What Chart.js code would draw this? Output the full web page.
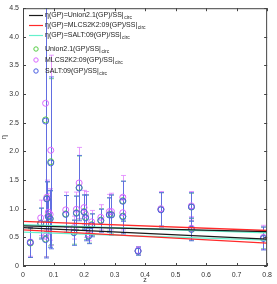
<!DOCTYPE html>
<html>
<head>
<meta charset="utf-8">
<script src="https://cdn.jsdelivr.net/npm/chart.js@4"></script>
<style>
  html, body { margin: 0; padding: 0; background: #fff; }
  #wrap { width: 277px; height: 284px; }
</style>
</head>
<body>
<div id="wrap"><canvas id="etaChart" width="277" height="284"></canvas></div>
<script>
// redshift of each SN point
const zVals = [0.024, 0.058, 0.074, 0.074, 0.083, 0.089, 0.091, 0.078, 0.14, 0.167, 0.175, 0.184, 0.200, 0.205, 0.215, 0.225, 0.255, 0.283, 0.29, 0.327, 0.327, 0.377, 0.452, 0.552, 0.552, 0.788];

// eta values and 1-sigma errors per light-curve fitter
const unionEta = [0.40, 0.75, 0.47, 2.55, 0.87, 0.83, 1.82, 1.18, 0.91, 0.59, 0.93, 1.37, 0.95, 0.85, 0.53, 0.72, 0.80, 0.90, 0.90, 1.14, 0.87, 0.26, 0.99, 1.03, 0.64, 0.49];
const unionErr = [0.25, 0.26, 0.31, 1.95, 0.29, 0.48, 1.45, 0.29, 0.32, 0.21, 0.29, 0.55, 0.29, 0.39, 0.13, 0.19, 0.20, 0.29, 0.34, 0.34, 0.29, 0.07, 0.29, 0.24, 0.19, 0.19];
const mlcsEta  = [0.42, 0.84, 0.52, 2.84, 0.94, 0.90, 2.02, 1.20, 0.98, 0.67, 0.99, 1.45, 1.02, 0.90, 0.56, 0.77, 0.85, 0.95, 0.95, 1.20, 0.93, 0.27, 1.00, 1.05, 0.66, 0.50];
const mlcsErr  = [0.25, 0.31, 0.36, 2.20, 0.33, 0.45, 1.66, 0.30, 0.31, 0.20, 0.30, 0.62, 0.30, 0.40, 0.12, 0.20, 0.22, 0.30, 0.32, 0.38, 0.30, 0.07, 0.30, 0.25, 0.20, 0.21];
const saltEta  = [0.41, 0.74, 0.46, 2.53, 0.86, 0.82, 1.80, 1.17, 0.90, 0.58, 0.92, 1.36, 0.94, 0.84, 0.52, 0.71, 0.79, 0.89, 0.89, 1.13, 0.86, 0.26, 0.98, 1.03, 0.64, 0.48];
const saltErr  = [0.26, 0.27, 0.32, 2.00, 0.30, 0.50, 1.50, 0.30, 0.33, 0.22, 0.30, 0.57, 0.30, 0.40, 0.13, 0.20, 0.20, 0.30, 0.35, 0.35, 0.30, 0.07, 0.30, 0.25, 0.20, 0.20];

// GP fit lines, two per fitter (ends at z=0 and z=0.8)
const lineZ = [0, 0.8];
const unionLineA = [0.70, 0.60];
const unionLineB = [0.67, 0.47];
const mlcsLineA  = [0.78, 0.62];
const mlcsLineB  = [0.63, 0.40];
const saltLineA  = [0.72, 0.58];
const saltLineB  = [0.59, 0.45];

const xTicks = [0, 0.1, 0.2, 0.3, 0.4, 0.5, 0.6, 0.7, 0.8];
const yTicks = [0, 0.5, 1, 1.5, 2, 2.5, 3, 3.5, 4, 4.5];

const FONT = '"Liberation Sans", Arial, sans-serif';
const C_BLACK = '#1a1a1a', C_RED = '#ff2a2a', C_CYAN = '#66f0cc';
const C_GREEN = '#55cc44', C_MAG = '#d866ff', C_BLUE = '#4a5ee0';

const pts = (ys) => zVals.map((z, i) => ({ x: z, y: ys[i] }));
const seg = (ys) => lineZ.map((z, i) => ({ x: z, y: ys[i] }));

function pointSet(label, ys, errs, color, errColor) {
    return {
        label, data: pts(ys), errs, errColor, showLine: false,
        borderColor: color, backgroundColor: 'rgba(0,0,0,0)',
        pointRadius: 3, pointBorderWidth: 1, pointStyle: 'circle'
    };
}
function lineSet(label, ys, color) {
    return {
        type: 'line', label, data: seg(ys), showLine: true,
        borderColor: color, borderWidth: 1.3, pointRadius: 0, fill: false
    };
}

// error bars drawn through the scales (green, then magenta, then blue on top)
const errorBars = {
    id: 'errorBars',
    beforeDatasetsDraw(chart) {
        const ctx = chart.ctx, xs = chart.scales.x, ys = chart.scales.y;
        const area = chart.chartArea;
        ctx.save();
        ctx.beginPath();
        ctx.rect(area.left, area.top, area.right - area.left, area.bottom - area.top);
        ctx.clip();
        const withErr = chart.data.datasets.filter(ds => ds.errs).reverse();
        withErr.forEach(ds => {
            ctx.strokeStyle = ds.errColor;
            ctx.lineWidth = 1;
            ds.data.forEach((p, i) => {
                const px = Math.round(xs.getPixelForValue(p.x)) + 0.5;
                const top = ys.getPixelForValue(p.y + ds.errs[i]);
                const bot = ys.getPixelForValue(p.y - ds.errs[i]);
                ctx.beginPath();
                ctx.moveTo(px, top); ctx.lineTo(px, bot);
                ctx.moveTo(px - 2.5, top); ctx.lineTo(px + 2.5, top);
                ctx.moveTo(px - 2.5, bot); ctx.lineTo(px + 2.5, bot);
                ctx.stroke();
            });
        });
        ctx.restore();
    }
};

// MATLAB-like box with inward ticks, plus legend
const boxAndLegend = {
    id: 'boxAndLegend',
    afterDraw(chart) {
        const ctx = chart.ctx, a = chart.chartArea;
        const xs = chart.scales.x, ys = chart.scales.y;
        ctx.save();
        ctx.strokeStyle = '#444';
        ctx.lineWidth = 1;
        ctx.strokeRect(a.left + 0.5, a.top + 0.5, a.right - a.left - 1, a.bottom - a.top - 1);
        ctx.beginPath();
        xTicks.forEach(v => {
            const px = Math.round(xs.getPixelForValue(v)) + 0.5;
            ctx.moveTo(px, a.bottom); ctx.lineTo(px, a.bottom - 3);
            ctx.moveTo(px, a.top); ctx.lineTo(px, a.top + 3);
        });
        yTicks.forEach(v => {
            const py = Math.round(ys.getPixelForValue(v)) + 0.5;
            ctx.moveTo(a.left, py); ctx.lineTo(a.left + 3, py);
            ctx.moveTo(a.right, py); ctx.lineTo(a.right - 3, py);
        });
        ctx.stroke();

        const entries = [
            { kind: 'line', color: C_BLACK, text: 'η(GP)=Union2.1(GP)/SS|', y: 15 },
            { kind: 'line', color: C_RED, text: 'η(GP)=MLCS2K2:09(GP)/SS|', y: 25 },
            { kind: 'line', color: C_CYAN, text: 'η(GP)=SALT:09(GP)/SS|', y: 35 },
            { kind: 'dot', color: C_GREEN, text: 'Union2.1(GP)/SS|', y: 49 },
            { kind: 'dot', color: C_MAG, text: 'MLCS2K2:09(GP)/SS|', y: 60 },
            { kind: 'dot', color: C_BLUE, text: 'SALT:09(GP)/SS|', y: 71 }
        ];
        const lx = a.left + 6, tx = a.left + 22;
        ctx.textBaseline = 'middle';
        entries.forEach(e => {
            ctx.strokeStyle = e.color;
            if (e.kind === 'line') {
                ctx.lineWidth = 1.2;
                ctx.beginPath(); ctx.moveTo(lx, e.y + 0.5); ctx.lineTo(lx + 14, e.y + 0.5); ctx.stroke();
            } else {
                ctx.lineWidth = 1;
                ctx.beginPath(); ctx.arc(lx + 7, e.y, 2.2, 0, Math.PI * 2); ctx.stroke();
            }
            ctx.fillStyle = '#222';
            ctx.font = '7px ' + FONT;
            ctx.fillText(e.text, tx, e.y);
            const w = ctx.measureText(e.text).width;
            ctx.font = '5px ' + FONT;
            ctx.fillText('circ', tx + w + 0.5, e.y + 3);
        });
        ctx.restore();
    }
};

// lower index is drawn on top in Chart.js, so blue points come first
const datasets = [
    lineSet('η(GP)=Union2.1(GP)/SS', unionLineA, C_BLACK),
    lineSet('', unionLineB, C_BLACK),
    lineSet('η(GP)=MLCS2K2:09(GP)/SS', mlcsLineA, C_RED),
    lineSet('', mlcsLineB, C_RED),
    lineSet('η(GP)=SALT:09(GP)/SS', saltLineA, C_CYAN),
    lineSet('', saltLineB, C_CYAN),
    pointSet('SALT:09(GP)/SS', saltEta, saltErr, C_BLUE, 'rgba(80,105,225,0.85)'),
    pointSet('MLCS2K2:09(GP)/SS', mlcsEta, mlcsErr, C_MAG, 'rgba(225,130,255,0.8)'),
    pointSet('Union2.1(GP)/SS', unionEta, unionErr, C_GREEN, 'rgba(80,190,120,0.8)')
];

new Chart(document.getElementById('etaChart'), {
    type: 'scatter',
    data: { datasets },
    options: {
        responsive: false,
        animation: false,
        layout: { padding: { left: 0, right: 7, top: 6, bottom: 0 } },
        plugins: { legend: { display: false }, tooltip: { enabled: false } },
        scales: {
            x: {
                type: 'linear', min: 0, max: 0.8,
                afterBuildTicks: s => { s.ticks = xTicks.map(v => ({ value: v })); },
                afterFit: s => { s.height = 18; },
                grid: { display: false, drawTicks: false, tickLength: 0 },
                border: { display: false },
                ticks: { color: '#333', font: { size: 7, family: FONT }, padding: 5 },
                title: { display: true, text: 'z', color: '#333', font: { size: 7, family: FONT }, padding: 0 }
            },
            y: {
                type: 'linear', min: 0, max: 4.5,
                afterBuildTicks: s => { s.ticks = yTicks.map(v => ({ value: v })); },
                afterFit: s => { s.width = 23; },
                grid: { display: false, drawTicks: false, tickLength: 0 },
                border: { display: false },
                ticks: { color: '#333', font: { size: 7, family: FONT }, padding: 4 },
                title: { display: true, text: 'η', color: '#333', font: { size: 7, family: FONT }, padding: 0 }
            }
        }
    },
    plugins: [errorBars, boxAndLegend]
});
</script>
</body>
</html>
